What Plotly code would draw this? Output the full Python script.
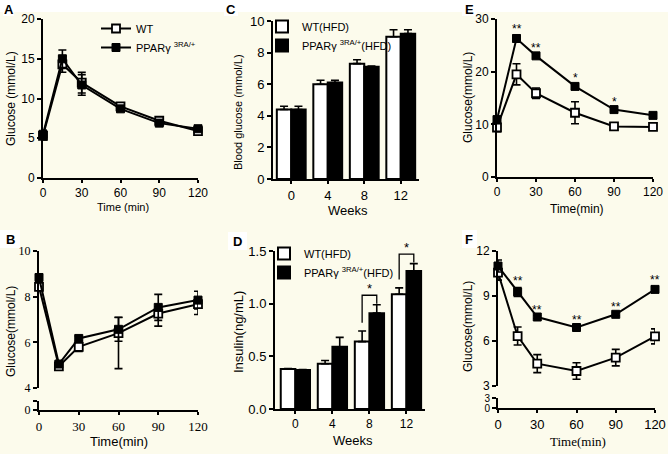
import plotly.graph_objects as go

W, H = 668, 454
def fx(px):
    return px / W
def fy(py):
    return 1 - py / H

SANS = "Liberation Sans, Arial, sans-serif"
SERIF = "Liberation Serif, Times New Roman, serif"
CREAM = "#fcfbec"

# ---------------- data ----------------
time_min = [0, 15, 30, 60, 90, 120]
weeks = ["0", "4", "8", "12"]

a_wt = [5.3, 14.3, 12.0, 9.0, 7.2, 5.9]
a_wt_err = [0.5, 1.0, 1.3, 0.3, 0.4, 0.4]
a_ko = [5.5, 15.0, 11.7, 8.7, 6.9, 6.2]
a_ko_err = [0.5, 1.1, 1.3, 0.3, 0.4, 0.3]

b_wt = [8.43, 4.95, 5.80, 6.40, 7.26, 7.67]
b_wt_err_up = [0.1, 0.1, 0.2, 0.7, 0.3, 0.3]
b_wt_err_dn = [0.1, 0.1, 0.2, 1.55, 0.55, 0.45]
b_ko = [8.84, 5.05, 6.17, 6.57, 7.53, 7.85]
b_ko_err = [0.1, 0.1, 0.1, 0.52, 0.57, 0.39]

c_wt = [4.4, 6.0, 7.3, 9.0]
c_wt_err = [0.2, 0.25, 0.25, 0.45]
c_ko = [4.4, 6.1, 7.1, 9.2]
c_ko_err = [0.2, 0.15, 0.05, 0.25]

d_wt = [0.38, 0.43, 0.64, 1.09]
d_wt_err = [0.005, 0.03, 0.1, 0.06]
d_ko = [0.37, 0.59, 0.91, 1.31]
d_ko_err = [0.005, 0.09, 0.08, 0.07]
d_sig = ["", "", "*", "*"]

e_wt = [9.4, 19.5, 15.9, 12.2, 9.6, 9.5]
e_wt_err = [0.8, 2.0, 1.0, 2.1, 0.5, 0.5]
e_ko = [10.9, 26.3, 23.0, 17.2, 12.8, 11.7]
e_ko_err = [0.5, 0.6, 0.3, 0.4, 0.3, 0.3]
e_sig = ["", "**", "**", "*", "*", ""]

f_wt = [10.56, 6.33, 4.49, 4.0, 4.89, 6.31]
f_wt_err = [0.5, 0.6, 0.6, 0.55, 0.55, 0.5]
f_ko = [11.0, 9.27, 7.6, 6.9, 7.78, 9.44]
f_ko_err = [0.4, 0.3, 0.1, 0.1, 0.1, 0.2]
f_sig = ["", "**", "**", "**", "**", "**"]

label_wt = "WT"
label_ko = "PPARγ <sup>3RA/+</sup>"
label_wt_hfd = "WT(HFD)"
label_ko_hfd = "PPARγ <sup>3RA/+</sup>(HFD)"

fig = go.Figure()

def err(arr, arrminus=None, width=4):
    d = dict(type="data", array=arr, visible=True, color="black", thickness=1.6, width=width)
    if arrminus is not None:
        d["symmetric"] = False
        d["arrayminus"] = arrminus
    return d

def add_lines(xa, ya, wt, wt_e, ko, ko_e, wt_dn=None, legend=None, show=False):
    fig.add_trace(go.Scatter(
        x=time_min, y=wt, xaxis=xa, yaxis=ya, mode="lines+markers", name=label_wt,
        line=dict(color="black", width=2),
        marker=dict(symbol="square", size=8, color="white", line=dict(color="black", width=1.8)),
        error_y=err(wt_e, wt_dn), cliponaxis=False, showlegend=show,
        legend=legend or "legend"))
    fig.add_trace(go.Scatter(
        x=time_min, y=ko, xaxis=xa, yaxis=ya, mode="lines+markers", name=label_ko,
        line=dict(color="black", width=2),
        marker=dict(symbol="square", size=8, color="black", line=dict(color="black", width=1)),
        error_y=err(ko_e), cliponaxis=False, showlegend=show,
        legend=legend or "legend"))

add_lines("x", "y", a_wt, a_wt_err, a_ko, a_ko_err, legend="legend", show=True)
add_lines("x2", "y2", b_wt, b_wt_err_up, b_ko, b_ko_err, wt_dn=b_wt_err_dn)
add_lines("x5", "y5", e_wt, e_wt_err, e_ko, e_ko_err)
add_lines("x6", "y6", f_wt, f_wt_err, f_ko, f_ko_err)

# empty traces so the broken-axis stub subplots get drawn
for xa, ya in [("x2", "y7"), ("x6", "y8")]:
    fig.add_trace(go.Scatter(x=[None], y=[None], xaxis=xa, yaxis=ya, mode="markers",
                             showlegend=False, hoverinfo="skip"))

def add_bars(xa, ya, wt, wt_e, ko, ko_e, legend):
    fig.add_trace(go.Bar(
        x=weeks, y=wt, xaxis=xa, yaxis=ya, name=label_wt_hfd,
        marker=dict(color="white", line=dict(color="black", width=2)),
        error_y=dict(type="data", array=wt_e, arrayminus=[0] * len(wt_e), symmetric=False,
                     visible=True, color="black", thickness=1.6, width=4),
        legend=legend))
    fig.add_trace(go.Bar(
        x=weeks, y=ko, xaxis=xa, yaxis=ya, name=label_ko_hfd,
        marker=dict(color="black", line=dict(color="black", width=2)),
        error_y=dict(type="data", array=ko_e, arrayminus=[0] * len(ko_e), symmetric=False,
                     visible=True, color="black", thickness=1.6, width=4),
        legend=legend))

add_bars("x3", "y3", c_wt, c_wt_err, c_ko, c_ko_err, "legend2")
add_bars("x4", "y4", d_wt, d_wt_err, d_ko, d_ko_err, "legend3")

# ---------------- axes ----------------
def base_axis(font_family, font_size):
    return dict(showline=True, linecolor="black", linewidth=2, ticks="outside", ticklen=4,
                tickwidth=2, tickcolor="black", showgrid=False, zeroline=False,
                tickfont=dict(family=font_family, size=font_size, color="black"))

def xaxis(d0, d1, anchor, rng, tickvals=None, fam=SANS, size=12, category=False):
    a = base_axis(fam, size)
    a.update(domain=[fx(d0), fx(d1)], anchor=anchor, range=rng, ticklen=3)
    if category:
        a.update(type="category")
    else:
        a.update(tickvals=tickvals)
    return a

def yaxis(top, bottom, anchor, rng, tickvals, fam=SANS, size=12, ticktext=None, fmt=None):
    a = base_axis(fam, size)
    a.update(domain=[fy(bottom), fy(top)], anchor=anchor, range=rng, tickvals=tickvals)
    if ticktext is not None:
        a.update(ticktext=ticktext)
    if fmt:
        a.update(tickformat=fmt)
    return a

tv_time = [0, 30, 60, 90, 120]

fig.update_layout(
    xaxis=xaxis(43, 198, "y", [0, 120], tv_time, size=12),
    yaxis=yaxis(19, 178, "x", [0, 20], [0, 5, 10, 15, 20], size=12),

    xaxis2=xaxis(39, 198, "y7", [0, 120], tv_time, fam=SERIF, size=13),
    yaxis2=yaxis(251, 388, "x2", [4, 10], [4, 6, 8, 10], fam=SERIF, size=12),
    yaxis7=yaxis(401, 410, "x2", [0, 1], [0, 1], fam=SERIF, size=12, ticktext=["0", ""]),

    xaxis3=xaxis(273, 419, "y3", [-0.5, 3.5], category=True, size=13),
    yaxis3=yaxis(21, 179, "x3", [0, 10], [0, 2, 4, 6, 8, 10], size=13),

    xaxis4=xaxis(275, 425, "y4", [-0.55, 3.5], category=True, size=12),
    yaxis4=yaxis(251, 409, "x4", [0, 1.5], [0, 0.5, 1.0, 1.5], size=13, fmt=".1f"),

    xaxis5=xaxis(497, 653, "y5", [0, 120], tv_time, size=12),
    yaxis5=yaxis(19, 177, "x5", [0, 30], [0, 10, 20, 30], size=12),

    xaxis6=xaxis(498, 655, "y8", [0, 120], tv_time, size=13),
    yaxis6=yaxis(251, 386, "x6", [3, 12], [3, 6, 9, 12], size=12),
    yaxis8=yaxis(398, 408, "x6", [0, 3], [0, 3], size=10),
)

fig.update_layout(
    width=W, height=H, margin=dict(l=0, r=0, t=0, b=0, autoexpand=False),
    paper_bgcolor=CREAM, plot_bgcolor=CREAM,
    barmode="group", bargap=0.21, bargroupgap=0,
    font=dict(family=SANS, color="black"),
    legend=dict(x=fx(96), y=fy(14), xanchor="left", yanchor="top",
                bgcolor="rgba(0,0,0,0)", font=dict(size=11, family=SANS)),
    legend2=dict(x=fx(262), y=fy(12), xanchor="left", yanchor="top",
                 bgcolor="rgba(0,0,0,0)", font=dict(size=11, family=SANS)),
    legend3=dict(x=fx(264), y=fy(239), xanchor="left", yanchor="top",
                 bgcolor="rgba(0,0,0,0)", font=dict(size=11, family=SANS)),
)

# ---------------- background boxes & panel letters ----------------
shapes = [
    dict(type="rect", xref="paper", yref="paper", x0=0, x1=1, y0=fy(12), y1=1,
         fillcolor="white", line=dict(width=0), layer="below"),
]
letters = [("A", 3, 2, 14, 16), ("B", 0, 230, 20, 248), ("C", 224, 2, 238, 16),
           ("D", 228, 232, 247, 250), ("E", 462, 2, 477, 16), ("F", 462, 230, 477, 248)]
annotations = []
for txt, x0, y0, x1, y1 in letters:
    shapes.append(dict(type="rect", xref="paper", yref="paper", x0=fx(x0), x1=fx(x1),
                       y0=fy(y1), y1=fy(y0), fillcolor="white", line=dict(width=0), layer="below"))
    annotations.append(dict(text=f"<b>{txt}</b>", xref="paper", yref="paper",
                            x=fx((x0 + x1) / 2), y=fy((y0 + y1) / 2), showarrow=False,
                            font=dict(family=SANS, size=13, color="black"),
                            xanchor="center", yanchor="middle"))

# axis titles
titles = [
    ("Glucose (mmol/L)", 11, 99, 12, SANS, True),
    ("Time (min)", 123, 207, 11, SANS, False),
    ("Glucose(mmol/L)", 11, 332, 12, SANS, True),
    ("Time(min)", 119, 441, 13, SANS, False),
    ("Blood glucose (mmol/L)", 238, 112, 11, SANS, True),
    ("Weeks", 348, 210, 13, SANS, False),
    ("Insulin(ng/mL)", 238, 332, 13, SANS, True),
    ("Weeks", 353, 440, 13, SANS, False),
    ("Glucose(mmol/L)", 468, 98, 12, SANS, True),
    ("Time(min)", 577, 209, 12, SANS, False),
    ("Glucose(mmol/L)", 468, 327, 12, SANS, True),
    ("Time(min)", 578, 441, 13, SERIF, False),
]
for txt, x, y, size, fam, vert in titles:
    annotations.append(dict(text=txt, xref="paper", yref="paper", x=fx(x), y=fy(y),
                            showarrow=False, textangle=-90 if vert else 0,
                            font=dict(family=fam, size=size, color="black"),
                            xanchor="center", yanchor="middle"))

# significance stars on E and F
for xa, ya, ko, ko_e, sig in [("x5", "y5", e_ko, e_ko_err, e_sig), ("x6", "y6", f_ko, f_ko_err, f_sig)]:
    for t, v, e, s in zip(time_min, ko, ko_e, sig):
        if s:
            annotations.append(dict(text=s, xref=xa, yref=ya, x=t, y=v + e, showarrow=False,
                                    yanchor="middle", yshift=6,
                                    font=dict(family=SANS, size=12, color="black")))

# brackets on D
half = (1 - 0.21) / 4
for i, s in enumerate(d_sig):
    if s:
        top_wt = d_wt[i] + d_wt_err[i]
        top_ko = d_ko[i] + d_ko_err[i]
        yb = max(top_wt, top_ko) + 0.09
        xl, xr = i - half, i + half
        shapes.append(dict(type="path", xref="x4", yref="y4",
                           path=f"M {xl},{top_wt + 0.08} L {xl},{yb} L {xr},{yb} L {xr},{top_ko + 0.01}",
                           line=dict(color="black", width=1.3)))
        annotations.append(dict(text=s, xref="x4", yref="y4", x=i, y=yb, showarrow=False,
                                yanchor="middle", yshift=7,
                                font=dict(family=SANS, size=13, color="black")))

fig.update_layout(shapes=shapes, annotations=annotations)

fig.write_html("out.html", config={"displayModeBar": False},
               post_script="document.body.style.margin='0';")
